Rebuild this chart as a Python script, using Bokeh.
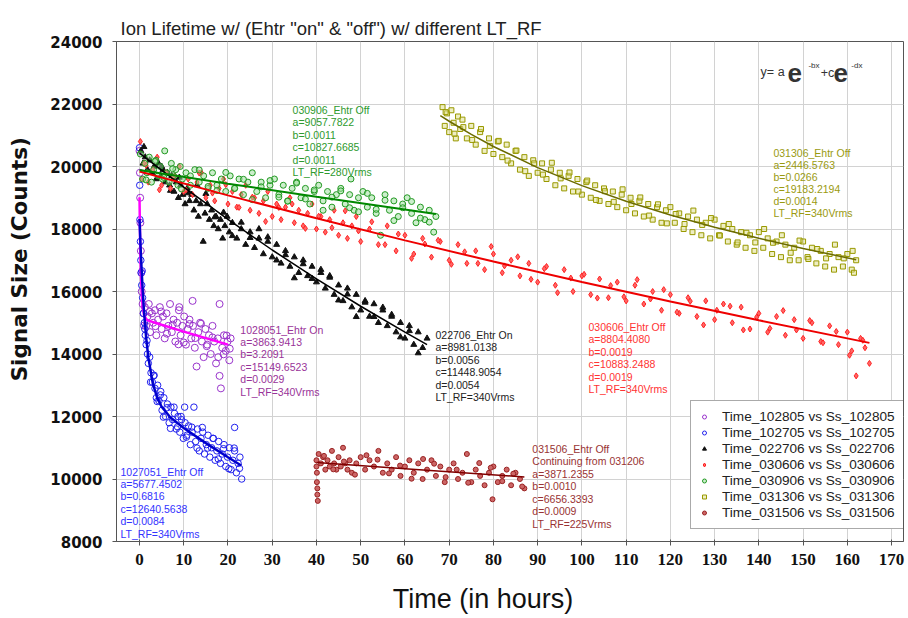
from bokeh.plotting import figure
from bokeh.models import Range1d, FixedTicker, Legend, LegendItem, ColumnDataSource
from bokeh.core.properties import value
from bokeh.embed import file_html
from bokeh.resources import INLINE

# ---------------- data ----------------
x_102805 = [0.0, 0.1, 0.15, 0.2, 0.3, 0.4, 0.5, 0.7, 0.9, 1.2, 1.5, 1.8, 2.1, 2.4, 2.8, 3.1, 3.5, 3.8, 4.2, 4.6,
            5.0, 5.3, 5.7, 6.1, 6.5, 6.9, 7.3, 7.7, 8.1, 8.5, 8.9, 9.0, 9.3, 9.7, 10.1, 10.5, 10.9, 11.3, 11.7, 12.0,
            12.1, 12.5, 12.9, 13.3, 13.7, 14.1, 14.5, 14.9, 15.3, 15.7, 16.1, 16.5, 16.9, 17.3, 17.7, 18.1, 18.1,
            18.4, 18.7, 19.1, 19.5, 19.9, 20.3, 20.6,
            1.0, 2.3, 3.6, 4.9, 6.2, 7.5, 8.8, 10.0, 11.3, 12.6, 13.9, 15.2, 16.5, 17.8, 19.0, 19.7, 20.4]
y_102805 = [20500, 19800, 19000, 18200, 17300, 16600, 16000, 15600, 15300, 15500, 14900, 15200, 15600, 14700, 15300,
            15000, 15400, 14600, 15100, 15500, 14800, 15200, 14500, 15300, 14900, 15600, 14700, 15100, 14400, 15000,
            15400, 15500, 14600, 14900, 15200, 14300, 14800, 15100, 14500, 15700, 14900, 14200, 13600, 14700, 15000,
            14400, 13900, 14800, 14300, 14600, 14000, 14900, 14400, 13700, 14500, 13300, 15600, 12900, 14200, 14600,
            14100, 14400, 13800, 14500,
            14910, 15350, 14890, 15360, 14650, 14940, 14310, 14370, 14960, 14510, 14970, 14250, 14530, 13900, 13990,
            14590, 14170]

x_102705 = [0.0, 0.05, 0.1, 0.2, 0.3, 0.4, 0.5, 0.7, 0.9, 1.1, 1.3, 1.5, 1.8, 2.0, 2.3, 2.6, 2.9, 3.2, 3.5, 3.8,
            4.1, 4.4, 4.8, 5.1, 5.5, 5.9, 6.3, 6.7, 7.1, 7.5, 7.9, 8.3, 8.7, 9.1, 9.5, 9.9, 10.2, 10.3, 10.7, 11.1,
            11.5, 11.9, 12.3, 12.7, 13.1, 13.5, 13.9, 14.3, 14.7, 15.1, 15.5, 15.9, 16.3, 16.7, 17.1, 17.5, 17.9,
            18.3, 18.7, 19.1, 19.5, 19.9, 20.3, 20.7, 21.1, 21.5, 21.5, 21.9, 22.3, 22.7, 23.1,
            0.6, 1.2, 1.7, 2.5, 3.3, 4.0, 4.7, 5.4, 6.2, 7.0, 7.8, 8.6, 9.4, 10.6, 11.8, 13.0, 14.2, 15.4, 16.6,
            17.8, 19.0, 20.2, 21.4, 22.6]
y_102705 = [20600, 19400, 18300, 17600, 17000, 16600, 16200, 15800, 15300, 15000, 14600, 14300, 14000, 13700, 13900,
            13400, 13100, 13300, 12900, 12600, 13000, 12500, 12800, 12200, 12600, 12000, 12400, 11800, 12300, 11900,
            12100, 11600, 12000, 11500, 11900, 11300, 12300, 11800, 11400, 11700, 11100, 11500, 12300, 11200, 11600,
            10900, 11300, 11500, 10800, 11100, 11400, 10700, 11000, 11300, 10600, 10900, 11200, 10500, 10800, 11100,
            10400, 10700, 11000, 10300, 10600, 10900, 11650, 10200, 10500, 10700, 10000,
            16660, 14800, 14430, 13100, 13320, 12480, 12690, 11980, 12280, 11620, 12300, 11670, 12000, 11340, 11660,
            10990, 11650, 10990, 11300, 10640, 10970, 10330, 10990, 10340]

x_022706 = [0.3, 0.8, 1.3, 1.8, 2.3, 2.8, 3.3, 3.8, 4.3, 4.8, 5.3, 5.8, 6.3, 6.8, 7.3, 7.8, 8.3, 8.8, 9.3, 9.8,
            10.3, 10.8, 11.3, 11.8, 12.3, 12.8, 13.3, 13.8, 14.4, 14.8, 15.3, 15.8, 16.3, 16.8, 17.3, 17.8, 18.3,
            18.8, 19.3, 19.8, 20.3, 21, 22, 23, 24, 25, 26, 27, 28, 29, 30, 31, 32, 33, 34, 35, 36, 37, 38, 39, 40,
            41, 42, 43, 44, 45, 46, 47, 48, 49, 50, 51, 52, 53, 54, 55, 56, 57, 58, 59, 60, 61, 62, 63, 64, 65,
            1, 3, 5, 7, 9, 11, 13, 15, 17, 19, 21, 23, 25, 27, 29, 31, 33, 35, 37, 39, 41, 43, 45, 47, 49, 51, 53,
            55, 57, 59, 61, 63]
y_022706 = [20500, 20100, 20300, 19900, 20200, 19800, 20000, 19600, 20100, 19700, 19900, 19500, 19800, 19400, 19700,
            19200, 19500, 19000, 19400, 19100, 18800, 19300, 18900, 19100, 18600, 18900, 18400, 18800, 17600, 18500,
            18800, 18300, 18600, 18100, 18400, 18000, 18300, 17700, 18100, 18400, 17900, 18200, 17700, 18000, 17500,
            17900, 17400, 17700, 17200, 17600, 17100, 17500, 16900, 17300, 16800, 17100, 16600, 17000, 16500, 16800,
            16300, 16600, 16100, 16500, 15900, 16200, 15700, 16100, 15500, 15900, 15400, 15700, 15200, 15600, 15000,
            15400, 14900, 15200, 14700, 15000, 14500, 14900, 14300, 14700, 14200, 14500,
            20630, 19860, 20000, 19230, 19650, 19150, 19410, 19130, 18380, 18530, 17780, 18210, 17720, 18000, 17740,
            17000, 17170, 16430, 16880, 16410, 16700, 16450, 15720, 15910, 15190, 15650, 15190, 15490, 15260, 14540,
            14740, 14030]

x_030606 = [0.2, 0.5, 1, 2, 3, 4, 5, 6, 7, 8, 9, 10, 11, 12, 13, 14, 15, 16, 17, 18, 19, 20, 21, 22, 23, 24, 25,
            26, 27, 28, 29, 30, 31, 32, 33, 34, 35, 36, 37, 38, 39, 40, 41, 42, 43, 44, 45, 46, 47, 48, 49, 50, 52,
            54, 56, 58, 60, 62, 64, 66, 68, 70, 72, 74, 76, 78, 80, 82, 84, 86, 88, 90, 92, 94, 96, 98, 100, 102,
            104, 106, 108, 110, 112, 114, 116, 118, 120, 122, 124, 126, 128, 130, 132, 134, 136, 138, 140, 142, 144,
            146, 148, 150, 152, 154, 156, 158, 160, 161, 162, 163, 164, 165,
            1.5, 4.5, 7.5, 10.5, 13.5, 16.5, 19.5, 22.5, 25.5, 28.5, 31.5, 34.5, 37.5, 40.5, 43.5, 46.5, 49.5, 52.5,
            55.5, 58.5, 61.5, 64.5, 67.5, 70.5, 73.5, 76.5, 79.5, 82.5, 85.5, 88.5, 91.5, 94.5, 97.5, 100.5, 103.5,
            106.5, 109.5, 112.5, 115.5, 118.5, 121.5, 124.5, 127.5, 130.5, 133.5, 136.5, 139.5, 142.5, 145.5, 148.5,
            151.5, 154.5, 157.5, 160.5, 163.5]
y_030606 = [20800, 19600, 20100, 19500, 19900, 20300, 19400, 19800, 19300, 19700, 20000, 19200, 19600, 19100, 19500,
            19800, 19000, 19400, 18900, 19300, 19600, 18800, 19200, 18700, 19100, 19400, 18600, 19000, 18500, 18900,
            19200, 18400, 18800, 18300, 18700, 19000, 18200, 18600, 18100, 18500, 18800, 18000, 18400, 17900, 18300,
            18600, 17800, 18200, 17700, 18100, 18400, 17600, 18000, 17500, 18100, 17300, 17800, 17200, 17700, 17100,
            17600, 17000, 17500, 16900, 17300, 16700, 17200, 16600, 17000, 16500, 16900, 16300, 16800, 16200, 16700,
            16000, 16500, 15900, 16400, 15800, 16300, 15700, 16200, 15600, 16000, 15400, 15900, 15300, 15800, 15200,
            15700, 15100, 15600, 15000, 15500, 14800, 15300, 14700, 15200, 14600, 15100, 14500, 15000, 14400, 14900,
            14300, 14700, 14100, 13300, 14500, 14200, 13700,
            20040, 19255, 19640, 19250, 19790, 19150, 19420, 18690, 19020, 18240, 18690, 18800, 18020, 18410, 18040,
            18580, 17940, 18230, 17500, 17840, 17060, 17520, 17640, 16870, 17270, 16900, 17440, 16820, 17110, 16390,
            16730, 15960, 16430, 16550, 15790, 16190, 15830, 16380, 15760, 16060, 15340, 15690, 14930, 15400, 15530,
            14770, 15180, 14820, 15390, 14770, 15070, 14360, 14720, 13960, 14440]

x_030906 = [0.2, 0.7, 1.2, 1.7, 2.2, 2.7, 3.2, 3.7, 4.2, 4.7, 5.2, 5.7, 6.2, 6.7, 7.2, 7.7, 8.2, 8.7, 9.2, 9.7,
            10.5, 11.5, 12.5, 13.5, 14.5, 15.5, 16.5, 17.5, 18.5, 19.5, 20.5, 21.5, 22.5, 23.5, 24.5, 25.5, 26.5,
            27.5, 28.5, 29.5, 30.5, 31.5, 32.5, 33.5, 34.5, 35.5, 36.5, 37.5, 38.5, 39.5, 40.5, 41.5, 42.5, 43.5,
            44.5, 45.5, 46.5, 47.5, 47.8, 48.5, 49.5, 50.5, 51.5, 52.5, 53.5, 54.5, 55.5, 56.5, 57.5, 58.5, 59.5,
            60.5, 61.5, 62.5, 63.5, 64.5, 65.5, 66.5, 67,
            1.5, 3.5, 5.5, 7.5, 9.5, 11.5, 13.5, 15.5, 17.5, 19.5, 21.5, 23.5, 25.5, 27.5, 29.5, 31.5, 33.5, 35.5,
            37.5, 39.5, 41.5, 43.5, 45.5, 47.5, 49.5, 51.5, 53.5, 55.5, 57.5, 59.5, 61.5, 63.5, 65.5]
y_030906 = [20400, 19600, 20100, 19800, 20300, 19500, 19900, 20200, 19700, 20000, 19600, 20500, 19800, 19500, 20100,
            19700, 19900, 19400, 20000, 19600, 19800, 19400, 19900, 19500, 19700, 19300, 19800, 19400, 19600, 19200,
            19700, 19300, 19600, 19100, 19500, 19800, 19200, 19500, 19000, 19400, 19600, 19100, 19400, 18900, 19300,
            19500, 19000, 19300, 18800, 19200, 19400, 18900, 19200, 18700, 19100, 19300, 18800, 19100, 19600, 18600,
            19000, 19200, 18700, 19000, 18500, 17800, 19100, 18600, 18900, 18400, 18800, 19000, 18500, 18200, 18700,
            18300, 18600, 17900, 18400,
            19570, 20160, 19650, 19930, 19280, 19700, 19890, 19360, 19230, 19810, 19300, 19590, 18940, 19350, 19550,
            19020, 18890, 19470, 18960, 19250, 18600, 19020, 19220, 18680, 18550, 19140, 18630, 18920, 18270, 18680,
            18880, 18350, 18220]

x_031306 = [68.5, 69, 69.5, 70, 70.5, 71, 71.5, 72, 72.5, 73, 74, 75, 76, 77, 78, 79, 80, 81, 82, 83, 84, 85, 86,
            87, 88, 89, 90, 91, 92, 93, 94, 95, 96, 97, 98, 99, 100, 101, 102, 103, 104, 105, 106, 107, 108, 109,
            110, 111, 112, 113, 114, 115, 116, 117, 118, 119, 120, 121, 122, 123, 124, 125, 126, 127, 128, 129, 130,
            131, 132, 133, 134, 135, 136, 137, 138, 139, 140, 141, 142, 143, 144, 145, 146, 147, 148, 149, 150, 151,
            152, 153, 154, 155, 156, 157, 158, 159, 160, 161, 161.5, 162,
            69.2, 71.2, 73.2, 75.2, 77.2, 79.2, 81.2, 83.2, 85.2, 87.2, 89.2, 91.2, 93.2, 95.2, 97.2, 99.2, 101.2,
            103.2, 105.2, 107.2, 109.2, 111.2, 113.2, 115.2, 117.2, 119.2, 121.2, 123.2, 125.2, 127.2, 129.2, 131.2,
            133.2, 135.2, 137.2, 139.2, 141.2, 143.2, 145.2, 147.2, 149.2, 151.2, 153.2, 155.2, 157.2, 159.2, 161.2]
y_031306 = [21900, 21300, 21700, 21100, 21800, 21400, 20900, 21600, 21200, 21500, 20900, 21300, 20700, 21100, 20500,
            20900, 20400, 20800, 20300, 20700, 20100, 20500, 19900, 20300, 19700, 20200, 19800, 20100, 19600, 19900,
            19400, 19800, 19300, 19700, 19200, 19600, 19100, 19500, 19000, 19400, 18900, 19300, 18800, 19200, 18700,
            19100, 18600, 19000, 18500, 18900, 18400, 18800, 18300, 18700, 18200, 18600, 18700, 18200, 18500, 18000,
            18400, 17900, 18300, 17800, 18200, 17700, 18300, 17800, 18100, 17600, 18000, 17500, 17900, 17400, 17800,
            17300, 17900, 17400, 17700, 17200, 17600, 17100, 17500, 17000, 17400, 17000, 17600, 17100, 17400, 16900,
            17300, 16800, 17200, 16700, 17100, 16800, 17200, 16700, 16600, 17000,
            21740, 21050, 21260, 20850, 21200, 20660, 20820, 20190, 20510, 19850, 20100, 19740, 20120, 19620, 19810,
            19200, 19550, 18930, 19210, 18870, 19270, 18800, 19010, 18430, 18790, 18180, 18480, 18160, 18590, 18130,
            18350, 17790, 18160, 17570, 17880, 17570, 18000, 17560, 17800, 17240, 17630, 17040, 17360, 17060, 17500,
            17060, 17300]

x_031506 = [40, 40, 40.1, 40.1, 40.2, 40.2, 40.3, 40.5, 41, 41.5, 42, 42.5, 43, 43.5, 44, 44.5, 45, 45.5, 46, 46.5,
            47, 47.5, 48, 49, 50, 51, 52, 53, 54, 55, 56, 57, 58, 59, 60, 61, 62, 63, 64, 65, 66, 67, 68, 69, 70, 71,
            72, 73, 74, 75, 76, 77, 78, 79, 79.8, 80, 81, 82, 83, 84, 85, 86, 87,
            41.7, 43.8, 46.2, 48.7, 51.3, 53.8, 56.4, 58.9, 61.5, 64.1, 66.6, 69.2, 71.7, 74.3, 76.8, 79.4, 82.0,
            84.5, 86.5]
y_031506 = [10600, 10400, 10200, 9900, 9700, 9500, 9300, 10800, 10500, 10700, 10300, 10600, 10400, 10900, 10500,
            10300, 10700, 10400, 11000, 10500, 10300, 10600, 10200, 10500, 10700, 10300, 10600, 10400, 10900, 10200,
            10500, 10300, 10700, 10100, 10400, 10600, 10200, 10500, 10000, 10300, 10600, 10100, 10400, 9900, 10300,
            10500, 10000, 10200, 10800, 9900, 10300, 10100, 9800, 10200, 9350, 10400, 9900, 10100, 10300, 9800, 10200,
            10000, 9700,
            10740, 10310, 10560, 10140, 10760, 10620, 10180, 10430, 10010, 10640, 10490, 10060, 10300, 9880, 10510,
            10360, 9930, 10170, 9760]

# fitted curves y = a*exp(-b x) + c*exp(-d x)
fx_102805 = [0, 0.1, 0.2, 0.3, 0.5, 0.7, 1.0, 1.5, 2, 5, 10, 15, 20]
fy_102805 = [19014, 17949, 17175, 16613, 15905, 15528, 15262, 15115, 15069, 14934, 14717, 14507, 14300]
fx_102705 = [0, 0.25, 0.5, 0.75, 1, 1.5, 2, 3, 4, 5, 7, 10, 15, 20, 23]
fy_102705 = [18318, 17402, 16626, 15967, 15407, 14526, 13884, 13062, 12596, 12310, 11969, 11633, 11149, 10697, 10433]
fx_022706 = [0, 10, 20, 30, 40, 50, 60, 65]
fy_022706 = [20430, 19339, 18306, 17328, 16403, 15528, 14699, 14301]
fx_030606 = [0, 20, 40, 60, 80, 100, 120, 140, 165]
fy_030606 = [19840, 19075, 18342, 17636, 16958, 16306, 15679, 15077, 14356]
fx_030906 = [0, 20, 40, 67]
fy_030906 = [19885, 19450, 19030, 18480]
fx_031306 = [68, 70, 75, 80, 90, 100, 110, 120, 130, 140, 150, 162]
fy_031306 = [21629, 21448, 21026, 20641, 19964, 19388, 18888, 18449, 18059, 17704, 17379, 17017]
fx_031506 = [40, 60, 87]
fy_031506 = [10527, 10329, 10066]

legend_labels = ["Time_102805 vs Ss_102805", "Time_102705 vs Ss_102705", "Time_022706 vs Ss_022706",
                 "Time_030606 vs Ss_030606", "Time_030906 vs Ss_030906", "Time_031306 vs Ss_031306",
                 "Time_031506 vs Ss_031506"]

notes_102805 = ["1028051_Ehtr On", "a=3863.9413", "b=3.2091", "c=15149.6523", "d=0.0029", "LT_RF=340Vrms"]
notes_102705 = ["1027051_Ehtr Off", "a=5677.4502", "b=0.6816", "c=12640.5638", "d=0.0084", "LT_RF=340Vrms"]
notes_022706 = ["022706_Ehtr On", "a=8981.0138", "b=0.0056", "c=11448.9054", "d=0.0054", "LT_RF=340Vrms"]
notes_030606 = ["030606_Ehtr Off", "a=8804.4080", "b=0.0019", "c=10883.2488", "d=0.0019", "LT_RF=340Vrms"]
notes_030906 = ["030906_Ehtr Off", "a=9057.7822", "b=0.0011", "c=10827.6685", "d=0.0011", "LT_RF=280Vrms"]
notes_031306 = ["031306_Ehtr Off", "a=2446.5763", "b=0.0266", "c=19183.2194", "d=0.0014", "LT_RF=340Vrms"]
notes_031506 = ["031506_Ehtr Off", "Continuing from 031206", "a=3871.2355", "b=0.0010", "c=6656.3393",
                "d=0.0009", "LT_RF=225Vrms"]

x_ticks = [0, 10, 20, 30, 40, 50, 60, 70, 80, 90, 100, 110, 120, 130, 140, 150, 160, 170]
y_ticks = [8000, 10000, 12000, 14000, 16000, 18000, 20000, 22000, 24000]

# ---------------- figure ----------------
p = figure(width=905, height=616, output_backend="svg", toolbar_location=None,
           x_range=Range1d(-5.2, 172.7), y_range=Range1d(8000, 24000),
           min_border_left=116, min_border_right=2, min_border_top=41, min_border_bottom=75)
p.background_fill_color = "white"
p.border_fill_color = "white"
p.outline_line_color = "#555555"

p.title.text = 'Ion Lifetime w/ (Ehtr "on" & "off") w/ different LT_RF'
p.title.text_font = "Liberation Sans"
p.title.text_font_size = "18.5px"
p.title.text_font_style = "normal"
p.title.text_color = "#222222"
p.title.align = "left"
p.title.offset = 4
p.title.standoff = 5

p.xaxis.ticker = FixedTicker(ticks=x_ticks)
p.yaxis.ticker = FixedTicker(ticks=y_ticks)
p.xgrid.ticker = FixedTicker(ticks=x_ticks)
p.ygrid.ticker = FixedTicker(ticks=y_ticks)
for g in (p.xgrid, p.ygrid):
    g.grid_line_color = "#d2d2d2"
    g.grid_line_width = 1

for ax in (p.xaxis, p.yaxis):
    ax.axis_line_color = "#555555"
    ax.major_tick_line_color = "#555555"
    ax.minor_tick_line_color = None
    ax.major_tick_out = 4
    ax.major_label_text_color = "#111111"
    ax.axis_label_text_color = "#111111"
p.xaxis.major_tick_in = 2
p.yaxis.major_tick_in = 0

p.xaxis.major_label_text_font = "Liberation Sans Narrow"
p.xaxis.major_label_text_font_style = "bold"
p.xaxis.major_label_text_font_size = "17px"
p.xaxis.major_label_standoff = 8

p.yaxis.major_label_text_font = "DejaVu Sans"
p.yaxis.major_label_text_font_style = "bold"
p.yaxis.major_label_text_font_size = "15px"
p.yaxis.major_label_standoff = 10

# axis titles; the en-spaces shift them off-centre like the original
p.xaxis.axis_label = "Time (in hours)" + "\u2002" * 4
p.xaxis.axis_label_text_font = "Liberation Sans"
p.xaxis.axis_label_text_font_style = "normal"
p.xaxis.axis_label_text_font_size = "27px"
p.xaxis.axis_label_standoff = 16

p.yaxis.axis_label = "\u2002" * 6 + "Signal Size (Counts)"
p.yaxis.axis_label_text_font = "DejaVu Sans"
p.yaxis.axis_label_text_font_style = "bold"
p.yaxis.axis_label_text_font_size = "21.5px"
p.yaxis.axis_label_standoff = 15

# ---------------- points ----------------
r1 = p.scatter(x_102805, y_102805, marker="circle", size=7, line_color="#9933CC", fill_alpha=0, line_width=1)
r2 = p.scatter(x_102705, y_102705, marker="circle", size=6.5, line_color="#2222EE", fill_alpha=0, line_width=1)
r3 = p.scatter(x_022706, y_022706, marker="triangle", size=6, line_color="#111111", fill_color="#111111")
r4 = p.scatter(x_030606, y_030606, marker="diamond", size=6, line_color="#FF2222", fill_color="#FF6666")
r5 = p.scatter(x_030906, y_030906, marker="circle", size=6, line_color="#229922", fill_color="#99DD99", fill_alpha=0.5)
r6 = p.scatter(x_031306, y_031306, marker="square", size=5, line_color="#999900", fill_color="#DDDD88", fill_alpha=0.5)
r7 = p.scatter(x_031506, y_031506, marker="circle", size=5, line_color="#992222", fill_color="#CC6666")

# ---------------- fit lines ----------------
p.line(fx_102805, fy_102805, line_color="#FF00FF", line_width=2.5)
p.line(fx_102705, fy_102705, line_color="#0000CC", line_width=2.5)
p.line(fx_022706, fy_022706, line_color="#000000", line_width=1.5)
p.line(fx_030606, fy_030606, line_color="#EE0000", line_width=2)
p.line(fx_030906, fy_030906, line_color="#008800", line_width=2)
p.line(fx_031306, fy_031306, line_color="#6B6B00", line_width=1.5)
p.line(fx_031506, fy_031506, line_color="#800000", line_width=1.5)

# ---------------- annotation blocks ----------------
def note_block(lines, x0, y0, color, step=400):
    src = ColumnDataSource(dict(x=[x0] * len(lines), y=[y0 - i * step for i in range(len(lines))], text=lines))
    p.text(x="x", y="y", text="text", source=src, text_font=value("Liberation Sans"),
           text_font_size=value("10.5px"), text_color=color, text_baseline="middle", text_align="left")

note_block(notes_030906, 34.6, 21824, "#2E9A2E")
note_block(notes_031306, 143.3, 20448, "#9A9A10", step=385)
note_block(notes_102805, 22.8, 14784, "#993399", step=397)
note_block(notes_102705, -4.3, 10240, "#3333FF", step=397)
note_block(notes_022706, 66.9, 14624, "#222222", step=400)
note_block(notes_030606, 101.5, 14880, "#FF3333", step=400)
note_block(notes_031506, 88.8, 10976, "#993333", step=400)

# equation y = a e^-bx + c e^-dx
eq_src = ColumnDataSource(dict(x=[140.4, 154.0], y=[23040, 23008], text=["y= a", "+c"]))
p.text(x="x", y="y", text="text", source=eq_src, text_font=value("Liberation Sans"),
       text_font_size=value("12.5px"), text_color="#333333", text_baseline="middle")
e_src = ColumnDataSource(dict(x=[146.5, 156.9], y=[23008, 23008], text=["e", "e"]))
p.text(x="x", y="y", text="text", source=e_src, text_font=value("Liberation Sans"),
       text_font_size=value("26px"), text_font_style="bold", text_color="#333333", text_baseline="middle")
ex_src = ColumnDataSource(dict(x=[151.2, 160.9], y=[23232, 23232], text=["-bx", "-dx"]))
p.text(x="x", y="y", text="text", source=ex_src, text_font=value("Liberation Sans"),
       text_font_size=value("8px"), text_color="#333333", text_baseline="middle")

# ---------------- legend ----------------
rends = [r1, r2, r3, r4, r5, r6, r7]
legend = Legend(items=[LegendItem(label=lab, renderers=[r]) for lab, r in zip(legend_labels, rends)],
                location=(574, 12), margin=0, padding=8, spacing=1,
                glyph_width=10, glyph_height=15, label_height=15, label_standoff=13,
                label_text_font="Liberation Sans", label_text_font_size="13.6px", label_text_color="#222222",
                border_line_color="#555555", border_line_width=1, background_fill_color="white",
                background_fill_alpha=1)
p.add_layout(legend)

open("out.html", "w").write(file_html(p, INLINE))
